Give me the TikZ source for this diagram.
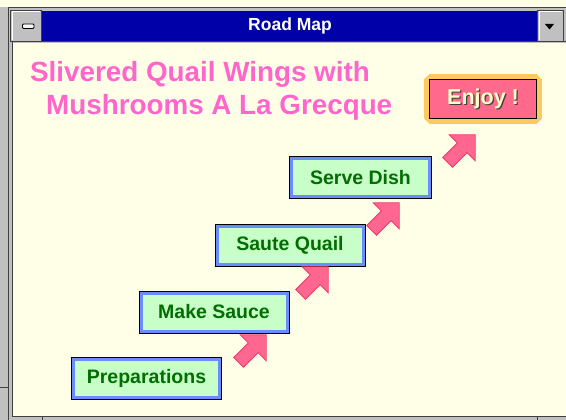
\documentclass[tikz,border=0pt]{standalone}
\usepackage{fontspec}
\setmainfont{Liberation Sans}
\usetikzlibrary{shapes.arrows}
\definecolor{cream}{HTML}{FFFFE8}
\definecolor{framegray}{HTML}{C0C0C0}
\definecolor{edgegray}{HTML}{404040}
\definecolor{titleblue}{HTML}{0000A8}
\definecolor{headpink}{HTML}{FF66CC}
\definecolor{boxgreen}{HTML}{C8FFC8}
\definecolor{boxblue}{HTML}{6A8CFF}
\definecolor{labelgreen}{HTML}{006E00}
\definecolor{arrowpink}{HTML}{FF6690}
\definecolor{arrowedge}{HTML}{F03A6A}
\definecolor{enjoypink}{HTML}{FF6A8C}
\definecolor{enjoyrim}{HTML}{FFC860}
\definecolor{enjoytext}{HTML}{FFFFC8}
\tikzset{
  stepbox/.style={preaction={draw=black,line width=5pt},fill=boxgreen,draw=boxblue,line width=3pt,
    minimum width=146pt,minimum height=38pt,inner sep=0pt,text=labelgreen,
    font=\fontsize{19.5}{23}\selectfont\bfseries},
  uparrow/.style={single arrow,rotate=45,fill=arrowpink,draw=arrowedge,line width=0.8pt,
    minimum height=39pt,inner sep=6.5pt,single arrow head extend=11.5pt},
  enjoybox/.style={preaction={draw=enjoyrim,line width=11pt,line join=bevel},fill=enjoypink,
    draw=black,line width=1.5pt,minimum width=107pt,minimum height=39pt},
  enjoyfont/.style={inner sep=0pt,font=\fontsize{21.5}{24}\selectfont\bfseries},
  winbox/.style={fill=framegray,draw=edgegray,line width=1pt}
}

\begin{document}
\begin{tikzpicture}[x=1pt,y=-1pt]
\useasboundingbox (0,0) rectangle (566,420);
\fill[cream] (0,0) rectangle (566,420);
\fill[framegray] (0,7) rectangle (566,420);
\draw[edgegray,line width=1pt] (8.5,420) -- (8.5,7.5) -- (566,7.5);
\fill[titleblue] (42,11) rectangle (537,41);
\draw[edgegray,line width=1pt] (10,41.5) -- (566,41.5);
\fill[cream] (13,43) rectangle (566,416);
\draw[edgegray,line width=1pt] (12.5,42) -- (12.5,416.5) -- (566,416.5);
\draw[edgegray,line width=1pt] (42,416.5) -- (42,420) (537,416.5) -- (537,420) (0,387) -- (8.5,387);
\draw[winbox] (10.5,10.5) rectangle (41.5,41.5);
\draw[white,line width=1pt] (12,40) -- (12,12) -- (40,12);
\draw[fill=white!85!framegray,draw=black,line width=0.8pt,rounded corners=1pt] (22.5,24) rectangle (34,28.5);
\draw[winbox] (537.5,10.5) rectangle (563.5,41.5);
\draw[white,line width=1pt] (539,40) -- (539,12) -- (562,12);
\fill[black] (545,24) -- (554,24) -- (549.5,29.5) -- cycle;
\node[text=white,font=\fontsize{17.5}{20}\selectfont\bfseries] (title) at (290,26) {Road Map};

\node[anchor=north west,align=left,inner sep=0pt,text=headpink,
  font=\fontsize{27.8}{33}\selectfont\bfseries] (dish) at (30,61.5)
  {Slivered Quail Wings with\\\hspace*{16pt}Mushrooms A La Grecque};

\node[stepbox] (prep) at (146.5,378.5) {Preparations};
\node[stepbox] (sauce) at (214,312) {Make Sauce};
\node[stepbox] (quail) at (290,245.5) {Saute Quail};
\node[stepbox,minimum width=138pt] (serve) at (360.5,178) {Serve Dish};
\node[enjoybox] (enjoy) at (483,99) {};
\node[enjoyfont,text=edgegray] (enjoyshade) at ([shift={(1.3,1.3)}]enjoy.center) {Enjoy !};
\node[enjoyfont,text=enjoytext] (enjoylabel) at (enjoy.center) {Enjoy !};

\node[uparrow] (a1) at (250,351) {};
\node[uparrow] (a2) at (312,283) {};
\node[uparrow] (a3) at (383,219) {};
\node[uparrow] (a4) at (459,151) {};
\end{tikzpicture}
\end{document}
